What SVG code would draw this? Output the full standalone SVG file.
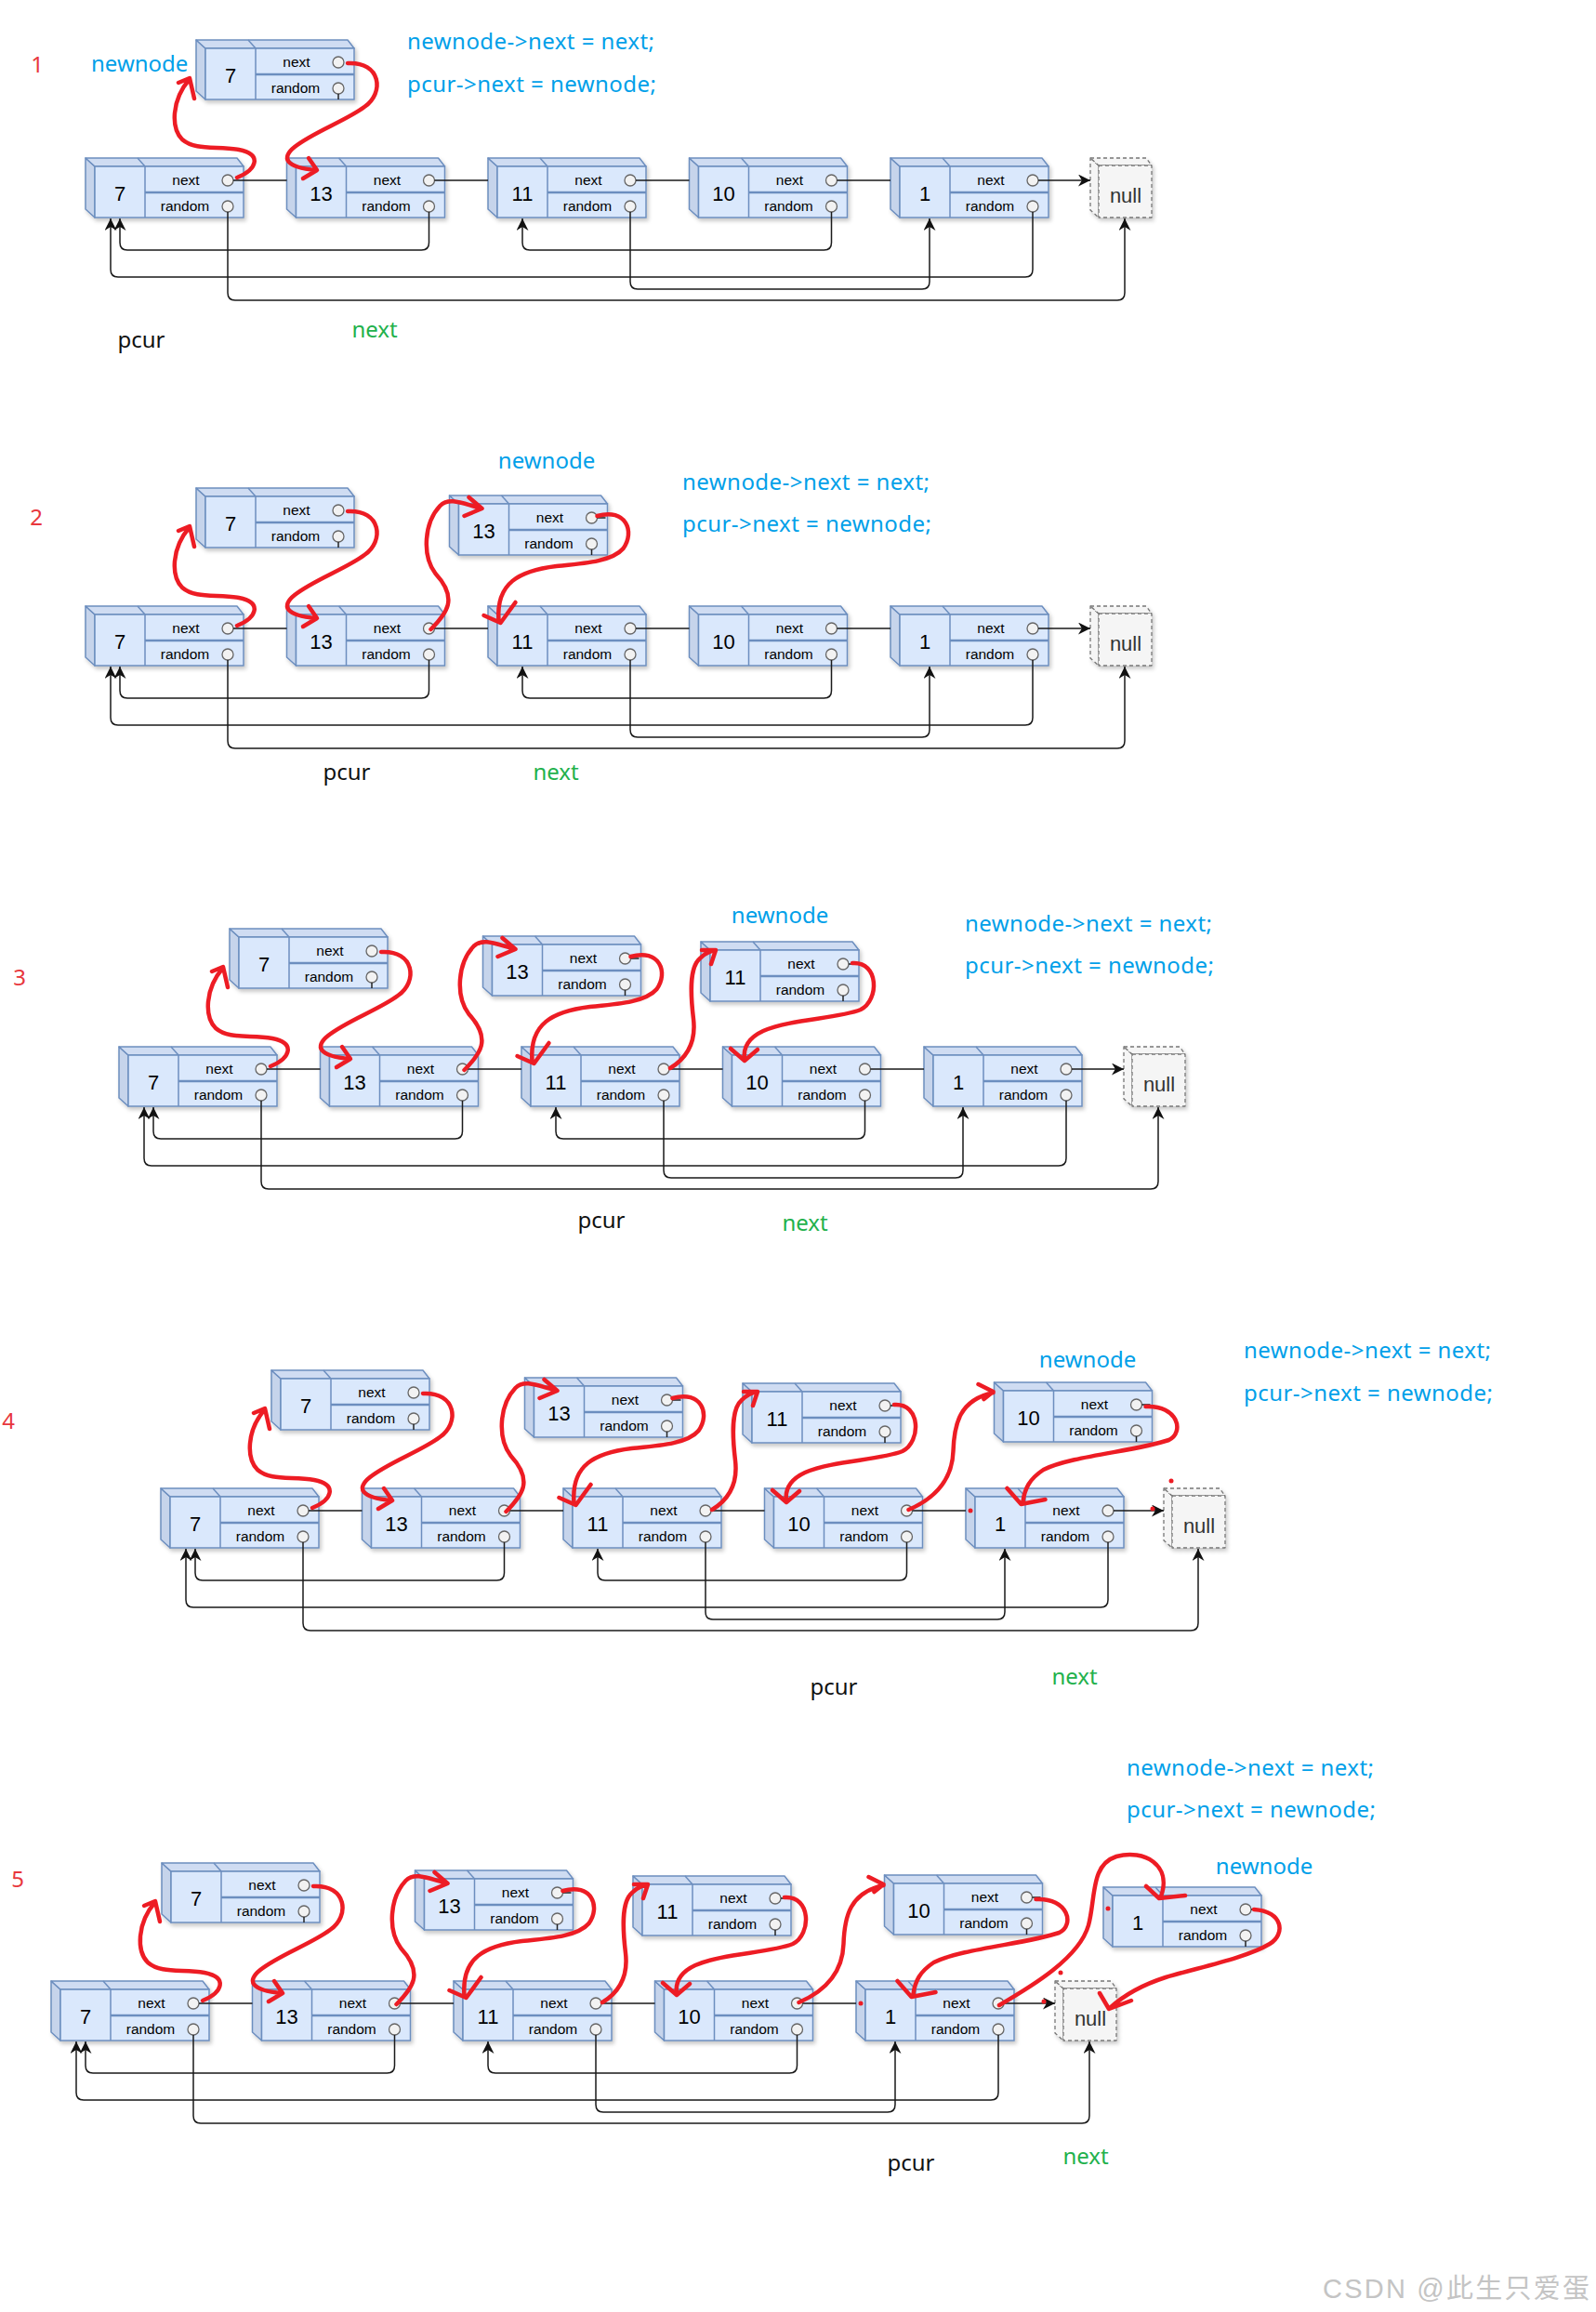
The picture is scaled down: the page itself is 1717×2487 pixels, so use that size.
<svg xmlns="http://www.w3.org/2000/svg" xmlns:xlink="http://www.w3.org/1999/xlink" width="1717" height="2487" viewBox="0 0 1717 2487">
<style>
.side{fill:#c6d4eb;stroke:#6c8ebf;stroke-width:1.5;stroke-linejoin:round}
.topf{fill:#cfdcf2;stroke:#6c8ebf;stroke-width:1.5;stroke-linejoin:round}
.front{fill:#dae8fc;stroke:#6c8ebf;stroke-width:1.5}
.dv{stroke:#6c8ebf;stroke-width:1.5}
.dv2{stroke:#6c8ebf;stroke-width:2.5}
.pt{fill:#f2f2f2;stroke:#666;stroke-width:1.3}
.ns{fill:#f5f5f5;stroke:#777;stroke-width:1.3;stroke-dasharray:4 3;stroke-linejoin:round}
.stub{fill:none;stroke:#222;stroke-width:1.5}
.v{font-family:"Liberation Sans",Arial,sans-serif;font-size:22px;text-anchor:middle;fill:#000}
.f{font-family:"Liberation Sans",Arial,sans-serif;font-size:15.5px;text-anchor:middle;fill:#000}
.nt{font-family:"Liberation Sans",Arial,sans-serif;font-size:22px;text-anchor:middle;fill:#333}
.bk{fill:none;stroke:#1a1a1a;stroke-width:1.5}
.rd{fill:none;stroke:#ed1c24;stroke-width:4.5;stroke-linecap:round;stroke-linejoin:round}
.dot{fill:#ed1c24}
.bl{fill:#00a0e9;font-family:"Noto Sans","Open Sans",sans-serif;font-size:24px}
.blc{fill:#00a0e9;font-family:"Noto Sans","Open Sans",sans-serif;font-size:24px;text-anchor:middle}
.rn{fill:#e8373d;font-family:"Noto Sans","Open Sans",sans-serif;font-size:24px;text-anchor:middle}
.pc{fill:#111;font-family:"Noto Sans","Open Sans",sans-serif;font-size:24px;text-anchor:middle}
.gn{fill:#22b14c;font-family:"Noto Sans","Open Sans",sans-serif;font-size:24px;text-anchor:middle}
.wm{fill:#c4c4c4;font-family:"Liberation Sans","Noto Sans CJK SC",sans-serif;font-size:29px}
</style>
<defs>
<filter id="sh" x="-10%" y="-10%" width="130%" height="140%"><feDropShadow dx="2" dy="3" stdDeviation="2" flood-color="#000" flood-opacity="0.22"/></filter>
<marker id="ah" viewBox="0 0 10 10" refX="10" refY="5" markerWidth="13" markerHeight="13" markerUnits="userSpaceOnUse" orient="auto"><path d="M0,0 L10,5 L0,10 L3,5 z" fill="#111"/></marker>
<g id="nb">
<polygon class="side" points="0,0 10,9 10,64 0,55"/>
<polygon class="topf" points="0,0 163,0 170,9 10,9"/>
<line class="dv" x1="56" y1="0" x2="64" y2="9"/>
<rect class="front" x="10" y="9" width="160" height="55"/>
<line class="dv" x1="64" y1="9" x2="64" y2="64"/>
<line class="dv2" x1="64" y1="37" x2="170" y2="37"/>
<circle class="pt" cx="153" cy="24" r="6"/>
<circle class="pt" cx="153" cy="52" r="6"/>
</g>
<g id="nl">
<polygon class="ns" points="0,0 9,8 9,64 0,56"/>
<polygon class="ns" points="0,0 60,0 66,8 9,8"/>
<rect class="ns" x="9" y="8" width="57" height="56"/>
</g>
</defs>
<rect width="1717" height="2487" fill="#fff"/>

<!-- ===== labels ===== -->
<g id="labels">
<text class="rn" x="40" y="78">1</text>
<text class="bl" x="98" y="77">newnode</text>
<text class="bl" x="438" y="53" textLength="266">newnode-&gt;next = next;</text>
<text class="bl" x="438" y="99" textLength="268">pcur-&gt;next = newnode;</text>
<text class="pc" x="152" y="374">pcur</text>
<text class="gn" x="403" y="363">next</text>

<text class="rn" x="39" y="565">2</text>
<text class="blc" x="588" y="504">newnode</text>
<text class="bl" x="734" y="527" textLength="266">newnode-&gt;next = next;</text>
<text class="bl" x="734" y="572" textLength="268">pcur-&gt;next = newnode;</text>
<text class="pc" x="373" y="839">pcur</text>
<text class="gn" x="598" y="839">next</text>

<text class="rn" x="21" y="1060">3</text>
<text class="blc" x="839" y="993">newnode</text>
<text class="bl" x="1038" y="1002" textLength="266">newnode-&gt;next = next;</text>
<text class="bl" x="1038" y="1047" textLength="268">pcur-&gt;next = newnode;</text>
<text class="pc" x="647" y="1321">pcur</text>
<text class="gn" x="866" y="1324">next</text>

<text class="rn" x="9" y="1537">4</text>
<text class="blc" x="1170" y="1471">newnode</text>
<text class="bl" x="1338" y="1461" textLength="266">newnode-&gt;next = next;</text>
<text class="bl" x="1338" y="1507" textLength="268">pcur-&gt;next = newnode;</text>
<text class="pc" x="897" y="1823">pcur</text>
<text class="gn" x="1156" y="1812">next</text>

<text class="rn" x="19" y="2030">5</text>
<text class="blc" x="1360" y="2016">newnode</text>
<text class="bl" x="1212" y="1910" textLength="266">newnode-&gt;next = next;</text>
<text class="bl" x="1212" y="1955" textLength="268">pcur-&gt;next = newnode;</text>
<text class="pc" x="980" y="2335">pcur</text>
<text class="gn" x="1168" y="2328">next</text>

<text class="wm" x="1423" y="2472" textLength="287">CSDN @此生只爱蛋</text>
</g>

<!-- ===== nodes ===== -->
<g id="nodes">
<!-- row 1 -->
<g id="r1-7" transform="translate(92 170)"><use href="#nb" filter="url(#sh)"/><text class="v" x="37" y="46">7</text><text class="f" x="108" y="29">next</text><text class="f" x="107" y="57">random</text></g>
<g id="r1-13" transform="translate(308.5 170)"><use href="#nb" filter="url(#sh)"/><text class="v" x="37" y="46">13</text><text class="f" x="108" y="29">next</text><text class="f" x="107" y="57">random</text></g>
<g id="r1-11" transform="translate(525 170)"><use href="#nb" filter="url(#sh)"/><text class="v" x="37" y="46">11</text><text class="f" x="108" y="29">next</text><text class="f" x="107" y="57">random</text></g>
<g id="r1-10" transform="translate(741.5 170)"><use href="#nb" filter="url(#sh)"/><text class="v" x="37" y="46">10</text><text class="f" x="108" y="29">next</text><text class="f" x="107" y="57">random</text></g>
<g id="r1-1" transform="translate(958 170)"><use href="#nb" filter="url(#sh)"/><text class="v" x="37" y="46">1</text><text class="f" x="108" y="29">next</text><text class="f" x="107" y="57">random</text></g>
<g id="r1-null" transform="translate(1173 170)"><use href="#nl" filter="url(#sh)"/><text class="nt" x="38" y="48">null</text></g>
<g id="r1-new7" transform="translate(211 43)"><use href="#nb" filter="url(#sh)"/><path class="stub" d="M153 58V64"/><text class="v" x="37" y="46">7</text><text class="f" x="108" y="29">next</text><text class="f" x="107" y="57">random</text></g>
<!-- row 2 -->
<g id="r2-7" transform="translate(92 652)"><use href="#nb" filter="url(#sh)"/><text class="v" x="37" y="46">7</text><text class="f" x="108" y="29">next</text><text class="f" x="107" y="57">random</text></g>
<g id="r2-13" transform="translate(308.5 652)"><use href="#nb" filter="url(#sh)"/><text class="v" x="37" y="46">13</text><text class="f" x="108" y="29">next</text><text class="f" x="107" y="57">random</text></g>
<g id="r2-11" transform="translate(525 652)"><use href="#nb" filter="url(#sh)"/><text class="v" x="37" y="46">11</text><text class="f" x="108" y="29">next</text><text class="f" x="107" y="57">random</text></g>
<g id="r2-10" transform="translate(741.5 652)"><use href="#nb" filter="url(#sh)"/><text class="v" x="37" y="46">10</text><text class="f" x="108" y="29">next</text><text class="f" x="107" y="57">random</text></g>
<g id="r2-1" transform="translate(958 652)"><use href="#nb" filter="url(#sh)"/><text class="v" x="37" y="46">1</text><text class="f" x="108" y="29">next</text><text class="f" x="107" y="57">random</text></g>
<g id="r2-null" transform="translate(1173 652)"><use href="#nl" filter="url(#sh)"/><text class="nt" x="38" y="48">null</text></g>
<g id="r2-new7" transform="translate(211 525)"><use href="#nb" filter="url(#sh)"/><path class="stub" d="M153 58V64"/><text class="v" x="37" y="46">7</text><text class="f" x="108" y="29">next</text><text class="f" x="107" y="57">random</text></g>
<g id="r2-new13" transform="translate(483.5 533)"><use href="#nb" filter="url(#sh)"/><path class="stub" d="M153 58V64M159 24H168"/><text class="v" x="37" y="46">13</text><text class="f" x="108" y="29">next</text><text class="f" x="107" y="57">random</text></g>
<!-- row 3 -->
<g id="r3-7" transform="translate(128 1126)"><use href="#nb" filter="url(#sh)"/><text class="v" x="37" y="46">7</text><text class="f" x="108" y="29">next</text><text class="f" x="107" y="57">random</text></g>
<g id="r3-13" transform="translate(344.5 1126)"><use href="#nb" filter="url(#sh)"/><text class="v" x="37" y="46">13</text><text class="f" x="108" y="29">next</text><text class="f" x="107" y="57">random</text></g>
<g id="r3-11" transform="translate(561 1126)"><use href="#nb" filter="url(#sh)"/><text class="v" x="37" y="46">11</text><text class="f" x="108" y="29">next</text><text class="f" x="107" y="57">random</text></g>
<g id="r3-10" transform="translate(777.5 1126)"><use href="#nb" filter="url(#sh)"/><text class="v" x="37" y="46">10</text><text class="f" x="108" y="29">next</text><text class="f" x="107" y="57">random</text></g>
<g id="r3-1" transform="translate(994 1126)"><use href="#nb" filter="url(#sh)"/><text class="v" x="37" y="46">1</text><text class="f" x="108" y="29">next</text><text class="f" x="107" y="57">random</text></g>
<g id="r3-null" transform="translate(1209 1126)"><use href="#nl" filter="url(#sh)"/><text class="nt" x="38" y="48">null</text></g>
<g id="r3-new7" transform="translate(247 999)"><use href="#nb" filter="url(#sh)"/><path class="stub" d="M153 58V64"/><text class="v" x="37" y="46">7</text><text class="f" x="108" y="29">next</text><text class="f" x="107" y="57">random</text></g>
<g id="r3-new13" transform="translate(519.5 1007)"><use href="#nb" filter="url(#sh)"/><path class="stub" d="M153 58V64M159 24H168"/><text class="v" x="37" y="46">13</text><text class="f" x="108" y="29">next</text><text class="f" x="107" y="57">random</text></g>
<g id="r3-new11" transform="translate(754 1013)"><use href="#nb" filter="url(#sh)"/><path class="stub" d="M153 58V64M159 24H168"/><text class="v" x="37" y="46">11</text><text class="f" x="108" y="29">next</text><text class="f" x="107" y="57">random</text></g>
<!-- row 4 -->
<g id="r4-7" transform="translate(173 1601)"><use href="#nb" filter="url(#sh)"/><text class="v" x="37" y="46">7</text><text class="f" x="108" y="29">next</text><text class="f" x="107" y="57">random</text></g>
<g id="r4-13" transform="translate(389.5 1601)"><use href="#nb" filter="url(#sh)"/><text class="v" x="37" y="46">13</text><text class="f" x="108" y="29">next</text><text class="f" x="107" y="57">random</text></g>
<g id="r4-11" transform="translate(606 1601)"><use href="#nb" filter="url(#sh)"/><text class="v" x="37" y="46">11</text><text class="f" x="108" y="29">next</text><text class="f" x="107" y="57">random</text></g>
<g id="r4-10" transform="translate(822.5 1601)"><use href="#nb" filter="url(#sh)"/><text class="v" x="37" y="46">10</text><text class="f" x="108" y="29">next</text><text class="f" x="107" y="57">random</text></g>
<g id="r4-1" transform="translate(1039 1601)"><use href="#nb" filter="url(#sh)"/><text class="v" x="37" y="46">1</text><text class="f" x="108" y="29">next</text><text class="f" x="107" y="57">random</text></g>
<g id="r4-null" transform="translate(1252 1601)"><use href="#nl" filter="url(#sh)"/><text class="nt" x="38" y="48">null</text></g>
<g id="r4-new7" transform="translate(292 1474)"><use href="#nb" filter="url(#sh)"/><path class="stub" d="M153 58V64"/><text class="v" x="37" y="46">7</text><text class="f" x="108" y="29">next</text><text class="f" x="107" y="57">random</text></g>
<g id="r4-new13" transform="translate(564.5 1482)"><use href="#nb" filter="url(#sh)"/><path class="stub" d="M153 58V64M159 24H168"/><text class="v" x="37" y="46">13</text><text class="f" x="108" y="29">next</text><text class="f" x="107" y="57">random</text></g>
<g id="r4-new11" transform="translate(799 1488)"><use href="#nb" filter="url(#sh)"/><path class="stub" d="M153 58V64M159 24H168"/><text class="v" x="37" y="46">11</text><text class="f" x="108" y="29">next</text><text class="f" x="107" y="57">random</text></g>
<g id="r4-new10" transform="translate(1069.5 1487)"><use href="#nb" filter="url(#sh)"/><path class="stub" d="M153 58V64M159 24H168"/><text class="v" x="37" y="46">10</text><text class="f" x="108" y="29">next</text><text class="f" x="107" y="57">random</text></g>
<!-- row 5 -->
<g id="r5-7" transform="translate(55 2131)"><use href="#nb" filter="url(#sh)"/><text class="v" x="37" y="46">7</text><text class="f" x="108" y="29">next</text><text class="f" x="107" y="57">random</text></g>
<g id="r5-13" transform="translate(271.5 2131)"><use href="#nb" filter="url(#sh)"/><text class="v" x="37" y="46">13</text><text class="f" x="108" y="29">next</text><text class="f" x="107" y="57">random</text></g>
<g id="r5-11" transform="translate(488 2131)"><use href="#nb" filter="url(#sh)"/><text class="v" x="37" y="46">11</text><text class="f" x="108" y="29">next</text><text class="f" x="107" y="57">random</text></g>
<g id="r5-10" transform="translate(704.5 2131)"><use href="#nb" filter="url(#sh)"/><text class="v" x="37" y="46">10</text><text class="f" x="108" y="29">next</text><text class="f" x="107" y="57">random</text></g>
<g id="r5-1" transform="translate(921 2131)"><use href="#nb" filter="url(#sh)"/><text class="v" x="37" y="46">1</text><text class="f" x="108" y="29">next</text><text class="f" x="107" y="57">random</text></g>
<g id="r5-null" transform="translate(1135 2131)"><use href="#nl" filter="url(#sh)"/><text class="nt" x="38" y="48">null</text></g>
<g id="r5-new7" transform="translate(174 2004)"><use href="#nb" filter="url(#sh)"/><path class="stub" d="M153 58V64"/><text class="v" x="37" y="46">7</text><text class="f" x="108" y="29">next</text><text class="f" x="107" y="57">random</text></g>
<g id="r5-new13" transform="translate(446.5 2012)"><use href="#nb" filter="url(#sh)"/><path class="stub" d="M153 58V64M159 24H168"/><text class="v" x="37" y="46">13</text><text class="f" x="108" y="29">next</text><text class="f" x="107" y="57">random</text></g>
<g id="r5-new11" transform="translate(681 2018)"><use href="#nb" filter="url(#sh)"/><path class="stub" d="M153 58V64M159 24H168"/><text class="v" x="37" y="46">11</text><text class="f" x="108" y="29">next</text><text class="f" x="107" y="57">random</text></g>
<g id="r5-new10" transform="translate(951.5 2017)"><use href="#nb" filter="url(#sh)"/><path class="stub" d="M153 58V64M159 24H168"/><text class="v" x="37" y="46">10</text><text class="f" x="108" y="29">next</text><text class="f" x="107" y="57">random</text></g>
<g id="r5-new1" transform="translate(1187 2030)"><use href="#nb" filter="url(#sh)"/><path class="stub" d="M153 58V64M159 24H168"/><text class="v" x="37" y="46">1</text><text class="f" x="108" y="29">next</text><text class="f" x="107" y="57">random</text></g>
</g>

<!-- ===== connectors (drawn above nodes) ===== -->
<g id="connectors">
<!-- row 1 -->
<g transform="translate(92 170)">
<path class="bk" marker-end="url(#ah)" d="M159 24H216.5M375.5 24H433M592 24H649.5M808.5 24H866M1025 24H1081"/>
<path class="bk" marker-end="url(#ah)" d="M369.5 58V91Q369.5 99 361.5 99H45Q37 99 37 91V65"/>
<path class="bk" marker-end="url(#ah)" d="M1019 58V120Q1019 128 1011 128H35Q27 128 27 120V65"/>
<path class="bk" marker-end="url(#ah)" d="M586 58V133Q586 141 594 141H900Q908 141 908 133V65"/>
<path class="bk" marker-end="url(#ah)" d="M802.5 58V91Q802.5 99 794.5 99H478Q470 99 470 91V65"/>
<path class="bk" marker-end="url(#ah)" d="M153 58V145Q153 153 161 153H1110Q1118 153 1118 145V65"/>
<path class="rd" d="M163 21C185 12 190 -4 165 -9C140 -13 118 -8 104 -20C92 -32 92 -62 112 -85M100 -81L112 -86L117 -64"/>
<path class="rd" d="M282 -102C318 -104 322 -70 300 -55C280 -40 245 -28 225 -12C210 0 215 10 248 13M240 0L249 13L234 22"/>
</g>
<!-- row 2 -->
<g transform="translate(92 652)">
<path class="bk" marker-end="url(#ah)" d="M159 24H216.5M375.5 24H433M592 24H649.5M808.5 24H866M1025 24H1081"/>
<path class="bk" marker-end="url(#ah)" d="M369.5 58V91Q369.5 99 361.5 99H45Q37 99 37 91V65"/>
<path class="bk" marker-end="url(#ah)" d="M1019 58V120Q1019 128 1011 128H35Q27 128 27 120V65"/>
<path class="bk" marker-end="url(#ah)" d="M586 58V133Q586 141 594 141H900Q908 141 908 133V65"/>
<path class="bk" marker-end="url(#ah)" d="M802.5 58V91Q802.5 99 794.5 99H478Q470 99 470 91V65"/>
<path class="bk" marker-end="url(#ah)" d="M153 58V145Q153 153 161 153H1110Q1118 153 1118 145V65"/>
<path class="rd" d="M163 21C185 12 190 -4 165 -9C140 -13 118 -8 104 -20C92 -32 92 -62 112 -85M100 -81L112 -86L117 -64"/>
<path class="rd" d="M282 -102C318 -104 322 -70 300 -55C280 -40 245 -28 225 -12C210 0 215 10 248 13M240 0L249 13L234 22"/>
<g transform="translate(216.5 0)">
<path class="rd" d="M155 25C172 8 185 -8 160 -35C145 -55 148 -90 165 -108C175 -118 190 -110 210 -105M196 -117L210 -105L191 -97"/>
<path class="rd" d="M334 -97C365 -106 375 -80 362 -62C350 -48 320 -46 290 -43C250 -38 225 -25 228 15M212 10L230 18L246 -4"/>
</g>
</g>
<!-- row 3 -->
<g transform="translate(128 1126)">
<path class="bk" marker-end="url(#ah)" d="M159 24H216.5M375.5 24H433M592 24H649.5M808.5 24H866M1025 24H1081"/>
<path class="bk" marker-end="url(#ah)" d="M369.5 58V91Q369.5 99 361.5 99H45Q37 99 37 91V65"/>
<path class="bk" marker-end="url(#ah)" d="M1019 58V120Q1019 128 1011 128H35Q27 128 27 120V65"/>
<path class="bk" marker-end="url(#ah)" d="M586 58V133Q586 141 594 141H900Q908 141 908 133V65"/>
<path class="bk" marker-end="url(#ah)" d="M802.5 58V91Q802.5 99 794.5 99H478Q470 99 470 91V65"/>
<path class="bk" marker-end="url(#ah)" d="M153 58V145Q153 153 161 153H1110Q1118 153 1118 145V65"/>
<path class="rd" d="M163 21C185 12 190 -4 165 -9C140 -13 118 -8 104 -20C92 -32 92 -62 112 -85M100 -81L112 -86L117 -64"/>
<path class="rd" d="M282 -102C318 -104 322 -70 300 -55C280 -40 245 -28 225 -12C210 0 215 10 248 13M240 0L249 13L234 22"/>
<g transform="translate(216.5 0)">
<path class="rd" d="M155 25C172 8 185 -8 160 -35C145 -55 148 -90 165 -108C175 -118 190 -110 210 -105M196 -117L210 -105L191 -97"/>
<path class="rd" d="M334 -97C365 -106 375 -80 362 -62C350 -48 320 -46 290 -43C250 -38 225 -25 228 15M212 10L230 18L246 -4"/>
</g>
<g transform="translate(433 0)">
<path class="rd" d="M160 23C178 12 188 -5 185 -30C182 -55 180 -85 192 -95C197 -100 203 -103 209 -104M194 -104L209 -104L204 -89"/>
<path class="rd" d="M356 -90C385 -92 385 -50 365 -40C340 -30 290 -30 260 -17C245 -10 238 0 240 14M225 2L240 15L254 3"/>
</g>
</g>
<!-- row 4 -->
<g transform="translate(173 1601)">
<path class="bk" marker-end="url(#ah)" d="M159 24H216.5M375.5 24H433M592 24H649.5M808.5 24H866M1025 24H1079"/>
<path class="bk" marker-end="url(#ah)" d="M369.5 58V91Q369.5 99 361.5 99H45Q37 99 37 91V65"/>
<path class="bk" marker-end="url(#ah)" d="M1019 58V120Q1019 128 1011 128H35Q27 128 27 120V65"/>
<path class="bk" marker-end="url(#ah)" d="M586 58V133Q586 141 594 141H900Q908 141 908 133V65"/>
<path class="bk" marker-end="url(#ah)" d="M802.5 58V91Q802.5 99 794.5 99H478Q470 99 470 91V65"/>
<path class="bk" marker-end="url(#ah)" d="M153 58V145Q153 153 161 153H1108Q1116 153 1116 145V65"/>
<path class="rd" d="M163 21C185 12 190 -4 165 -9C140 -13 118 -8 104 -20C92 -32 92 -62 112 -85M100 -81L112 -86L117 -64"/>
<path class="rd" d="M282 -102C318 -104 322 -70 300 -55C280 -40 245 -28 225 -12C210 0 215 10 248 13M240 0L249 13L234 22"/>
<g transform="translate(216.5 0)">
<path class="rd" d="M155 25C172 8 185 -8 160 -35C145 -55 148 -90 165 -108C175 -118 190 -110 210 -105M196 -117L210 -105L191 -97"/>
<path class="rd" d="M334 -97C365 -106 375 -80 362 -62C350 -48 320 -46 290 -43C250 -38 225 -25 228 15M212 10L230 18L246 -4"/>
</g>
<g transform="translate(433 0)">
<path class="rd" d="M160 23C178 12 188 -5 185 -30C182 -55 180 -85 192 -95C197 -100 203 -103 209 -104M194 -104L209 -104L204 -89"/>
<path class="rd" d="M356 -90C385 -92 385 -50 365 -40C340 -30 290 -30 260 -17C245 -10 238 0 240 14M225 2L240 15L254 3"/>
</g>
<g transform="translate(649.5 0)">
<path class="rd" d="M155 23C185 10 202 -10 203 -40C204 -70 210 -95 246 -103M230 -112L246 -104L236 -96"/>
<path class="rd" d="M410 -88C445 -90 452 -60 435 -52C400 -40 330 -35 300 -20C285 -10 280 0 278 14M261 0L276 17L302 12"/>
</g>
</g>
<!-- row 5 -->
<g transform="translate(55 2131)">
<path class="bk" marker-end="url(#ah)" d="M159 24H216.5M375.5 24H433M592 24H649.5M808.5 24H866M1025 24H1080"/>
<path class="bk" marker-end="url(#ah)" d="M369.5 58V91Q369.5 99 361.5 99H45Q37 99 37 91V65"/>
<path class="bk" marker-end="url(#ah)" d="M1019 58V120Q1019 128 1011 128H35Q27 128 27 120V65"/>
<path class="bk" marker-end="url(#ah)" d="M586 58V133Q586 141 594 141H900Q908 141 908 133V65"/>
<path class="bk" marker-end="url(#ah)" d="M802.5 58V91Q802.5 99 794.5 99H478Q470 99 470 91V65"/>
<path class="bk" marker-end="url(#ah)" d="M153 58V145Q153 153 161 153H1109Q1117 153 1117 145V65"/>
<path class="rd" d="M163 21C185 12 190 -4 165 -9C140 -13 118 -8 104 -20C92 -32 92 -62 112 -85M100 -81L112 -86L117 -64"/>
<path class="rd" d="M282 -102C318 -104 322 -70 300 -55C280 -40 245 -28 225 -12C210 0 215 10 248 13M240 0L249 13L234 22"/>
<g transform="translate(216.5 0)">
<path class="rd" d="M155 25C172 8 185 -8 160 -35C145 -55 148 -90 165 -108C175 -118 190 -110 210 -105M196 -117L210 -105L191 -97"/>
<path class="rd" d="M334 -97C365 -106 375 -80 362 -62C350 -48 320 -46 290 -43C250 -38 225 -25 228 15M212 10L230 18L246 -4"/>
</g>
<g transform="translate(433 0)">
<path class="rd" d="M160 23C178 12 188 -5 185 -30C182 -55 180 -85 192 -95C197 -100 203 -103 209 -104M194 -104L209 -104L204 -89"/>
<path class="rd" d="M356 -90C385 -92 385 -50 365 -40C340 -30 290 -30 260 -17C245 -10 238 0 240 14M225 2L240 15L254 3"/>
</g>
<g transform="translate(649.5 0)">
<path class="rd" d="M155 23C185 10 202 -10 203 -40C204 -70 210 -95 246 -103M230 -112L246 -104L236 -96"/>
<path class="rd" d="M410 -88C445 -90 452 -60 435 -52C400 -40 330 -35 300 -20C285 -10 280 0 278 14M261 0L276 17L302 12"/>
</g>
<g transform="translate(866 0)">
<path class="rd" d="M154 26C190 5 240 -25 250 -60C258 -90 252 -125 280 -134C310 -142 340 -125 328 -91M312 -102L326 -89L354 -92"/>
<path class="rd" d="M428 -77C460 -75 462 -50 445 -40C420 -25 370 -15 333 -4C305 5 285 18 273 29M262 13L272 30L296 21"/>
</g>
</g>
<circle class="dot" cx="1044" cy="1625" r="2.5"/>
<circle class="dot" cx="1260" cy="1593" r="2.5"/>
<circle class="dot" cx="1240" cy="1623" r="2.5"/>
<circle class="dot" cx="1192" cy="2053" r="2.5"/>
<circle class="dot" cx="926" cy="2155" r="2.5"/>
<circle class="dot" cx="1141" cy="2122" r="2.5"/>
<circle class="dot" cx="1123" cy="2153" r="2.5"/>
</g>
</svg>
